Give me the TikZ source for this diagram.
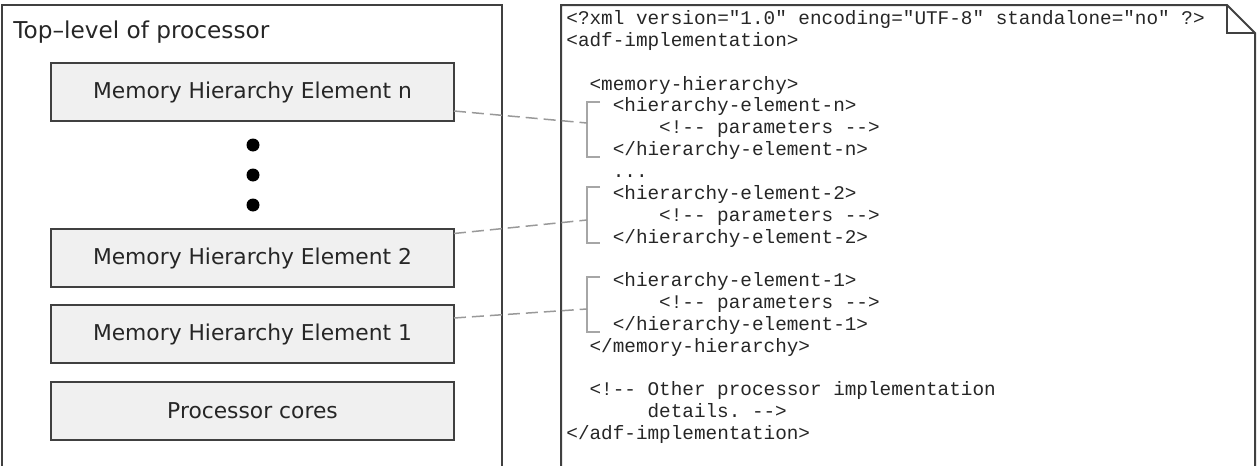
\documentclass[tikz,border=0pt]{standalone}
\usepackage{fontspec}
\setmainfont{DejaVu Sans}
\setmonofont{Liberation Mono}
\usetikzlibrary{positioning}

\begin{document}
\begin{tikzpicture}[x=0.5pt,y=-0.5pt,
    frame/.style={draw=black!75,line width=1pt},
    membox/.style={draw=black!75,line width=1pt,fill=black!6,
      minimum width=201.5pt,minimum height=29pt,inner sep=0pt,outer sep=0pt,
      font=\fontsize{10.9}{13}\selectfont,text=black!85},
    dot/.style={circle,fill=black,minimum size=6.5pt,inner sep=0pt,outer sep=0pt},
    xml/.style={anchor=base west,inner sep=0pt,
      font=\ttfamily\fontsize{9.67}{11}\selectfont,text=black!85},
    link/.style={draw=black!40,dash pattern=on 6pt off 3pt,line width=0.75pt},
    brk/.style={draw=black!35,line width=0.6pt}]
  \useasboundingbox (0,0) rectangle (1260,466);
  % one line of the xml listing: (row,indent){text}
  \def\xmlline(#1,#2)#3{
    \node[xml] (x#1) at ({566+11.6*#2},{24.5+21.85*(#1-1)}) {#3};
  }

  % processor side
  \draw[frame] (2,466) -- (2,5) -- (502,5) -- (502,466);
  \node[anchor=base west,inner sep=0pt,font=\fontsize{11.6}{14}\selectfont,text=black!85]
    (top) at (13,39) {Top–level of processor};
  \node[membox] (eln) at (252.5,92) {Memory Hierarchy Element n};
  \node[dot] (d1) at (253,145) {};
  \node[dot,below=8.5pt of d1] (d2) {};
  \node[dot,below=8.5pt of d2] (d3) {};
  \node[membox] (el2) at (252.5,258) {Memory Hierarchy Element 2};
  \node[membox,below=9pt of el2] (el1) {Memory Hierarchy Element 1};
  \node[membox,below=9.5pt of el1] (cores) {Processor cores};

  % document side
  \draw[frame] (561,466) -- (561,5) -- (1227,5) -- (1255,33) -- (1255,466);
  \draw[frame] (1227,5) -- (1227,33) -- (1255,33);

  \xmlline(1,0){<?xml version="1.0" encoding="UTF-8" standalone="no" ?>}
  \xmlline(2,0){<adf-implementation>}
  \xmlline(4,2){<memory-hierarchy>}
  \xmlline(5,4){<hierarchy-element-n>}
  \xmlline(6,8){<!-- parameters -->}
  \xmlline(7,4){</hierarchy-element-n>}
  \xmlline(8,4){...}
  \xmlline(9,4){<hierarchy-element-2>}
  \xmlline(10,8){<!-- parameters -->}
  \xmlline(11,4){</hierarchy-element-2>}
  \xmlline(13,4){<hierarchy-element-1>}
  \xmlline(14,8){<!-- parameters -->}
  \xmlline(15,4){</hierarchy-element-1>}
  \xmlline(16,2){</memory-hierarchy>}
  \xmlline(18,2){<!-- Other processor implementation}
  \xmlline(19,7){details. -->}
  \xmlline(20,0){</adf-implementation>}

  % brackets
  \draw[brk] (600,102) -| (587,157) -- (600,157);
  \draw[brk] (600,187) -| (587,243) -- (600,243);
  \draw[brk] (600,277) -| (587,332) -- (600,332);
  \coordinate (bn) at (587,123);
  \coordinate (b2) at (587,220);
  \coordinate (b1) at (587,309);

  \draw[link] ([yshift=-9.5pt]eln.east) -- (bn);
  \draw[link] ([yshift=12.25pt]el2.east) -- (b2);
  \draw[link] ([yshift=8pt]el1.east) -- (b1);
\end{tikzpicture}
\end{document}
